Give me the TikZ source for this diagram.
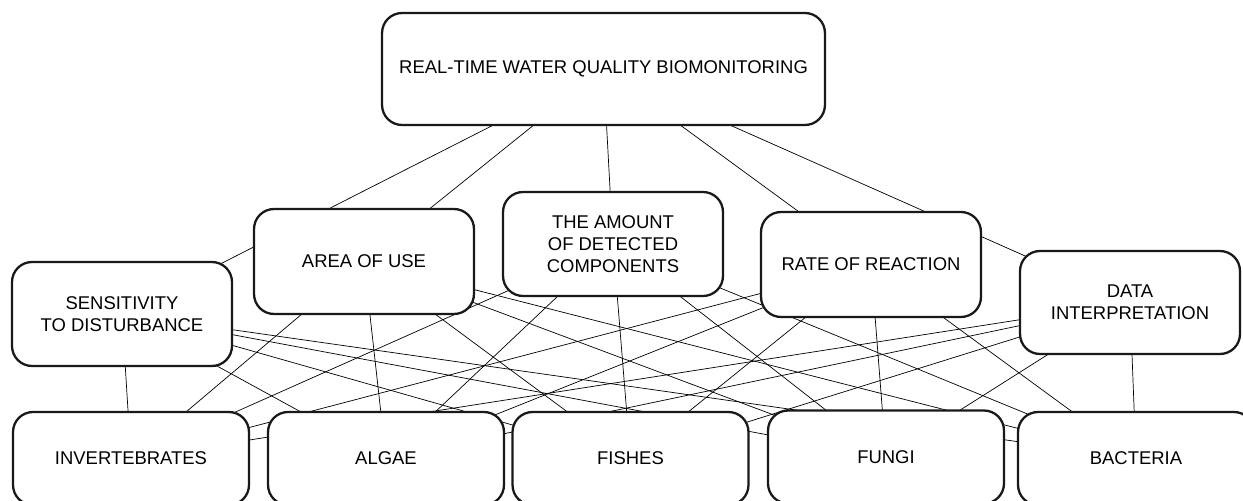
\documentclass[tikz,border=0pt]{standalone}
\usepackage{fontspec}
\setmainfont{Liberation Sans}
\usetikzlibrary{backgrounds}
\tikzset{
  box/.style={draw=black!90, line width=1.3pt, rounded corners=0.4cm, fill=white,
    align=center, font=\fontsize{10.5}{12.5}\selectfont, minimum width=4.4cm, minimum height=2.08cm, inner sep=0pt},
  leaf/.style={box, minimum width=4.72cm, minimum height=1.86cm},
  link/.style={draw=black!90, line width=0.6pt}
}
\begin{document}
\begin{tikzpicture}[x=0.02cm, y=-0.02cm]
      \useasboundingbox (0,0) rectangle (1243,500);
      \node[box, minimum width=8.86cm, minimum height=2.24cm] (top) at (603.5,69) {REAL-TIME WATER QUALITY BIOMONITORING};
      \node[box] (sens) at (122,314) {SENSITIVITY\\TO DISTURBANCE};
      \node[box, minimum height=2.1cm] (area) at (364,261.5) {AREA OF USE};
      \node[box] (amount) at (613,244) {THE AMOUNT\\OF DETECTED\\COMPONENTS};
      \node[box, minimum height=2.1cm] (rate) at (871,264.5) {RATE OF REACTION};
      \node[box, minimum height=2.06cm] (data) at (1130,302.5) {DATA\\INTERPRETATION};
      \node[leaf] (inv) at (131,458.5) {INVERTEBRATES};
      \node[leaf] (algae) at (386,458.5) {ALGAE};
      \node[leaf] (fishes) at (630.5,458.5) {FISHES};
      \node[leaf] (fungi) at (886,457) {FUNGI};
      \node[leaf] (bact) at (1136,458.5) {BACTERIA};
      \begin{scope}[on background layer, link]
        \draw (top.center) to (sens.center);
        \draw (top.center) to (area.center);
        \draw (top.center) to (amount.center);
        \draw (top.center) to (rate.center);
        \draw (top.center) to (data.center);
        \draw (sens.center) to (inv.center);
        \draw (sens.center) to (algae.center);
        \draw (sens.center) to (fishes.center);
        \draw (sens.center) to (fungi.center);
        \draw (sens.center) to (bact.center);
        \draw (area.center) to (inv.center);
        \draw (area.center) to (algae.center);
        \draw (area.center) to (fishes.center);
        \draw (area.center) to (fungi.center);
        \draw (area.center) to (bact.center);
        \draw (amount.center) to (inv.center);
        \draw (amount.center) to (algae.center);
        \draw (amount.center) to (fishes.center);
        \draw (amount.center) to (fungi.center);
        \draw (amount.center) to (bact.center);
        \draw (rate.center) to (inv.center);
        \draw (rate.center) to (algae.center);
        \draw (rate.center) to (fishes.center);
        \draw (rate.center) to (fungi.center);
        \draw (rate.center) to (bact.center);
        \draw (data.center) to (inv.center);
        \draw (data.center) to (algae.center);
        \draw (data.center) to (fishes.center);
        \draw (data.center) to (fungi.center);
        \draw (data.center) to (bact.center);
      \end{scope}
    \end{tikzpicture}
\end{document}
